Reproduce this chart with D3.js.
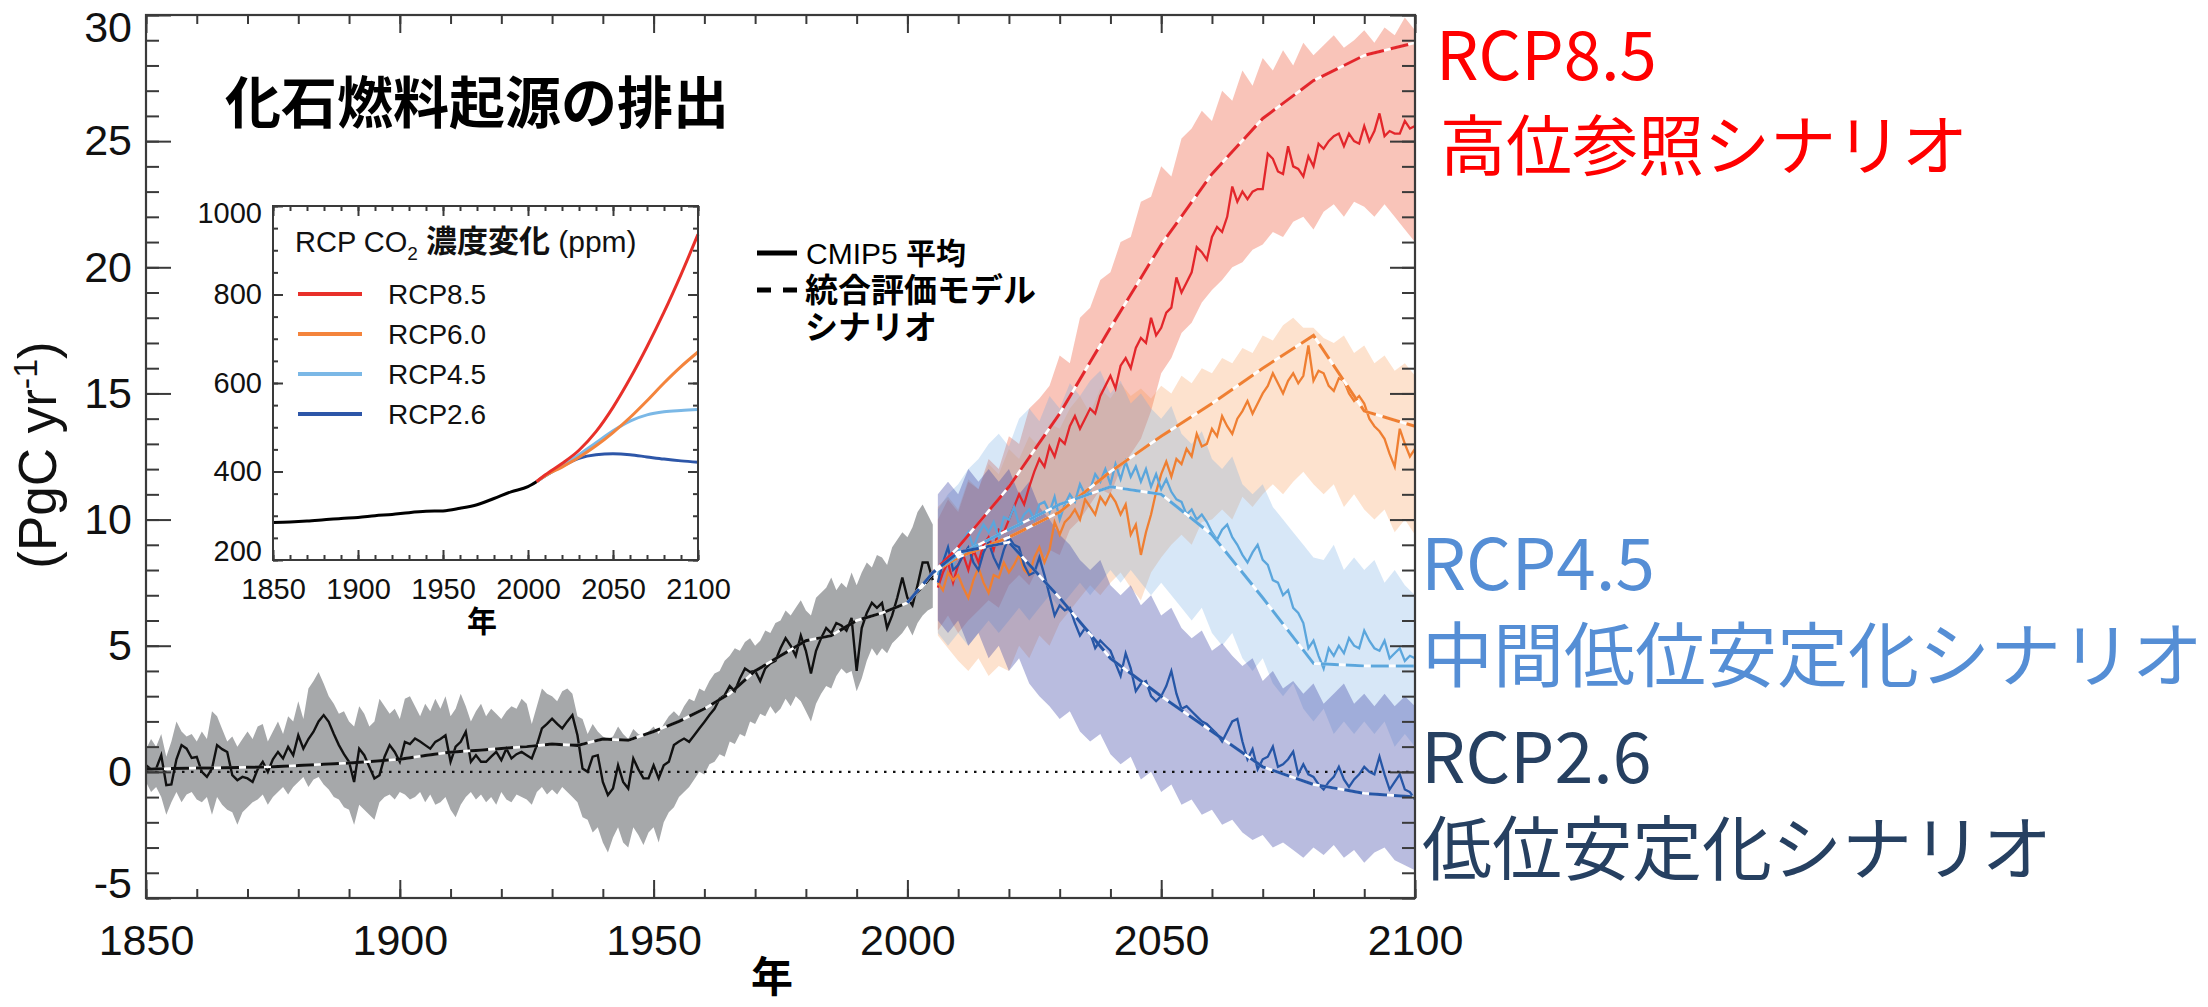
<!DOCTYPE html>
<html>
<head>
<meta charset="utf-8">
<script src="https://cdn.jsdelivr.net/npm/d3@7"></script>
<style>
  body { margin: 0; background: #fff; }
</style>
</head>
<body>
<script type="text/javascript">

  // ---------- data (PgC/yr) ----------
  var histYears = d3.range(1850, 2006);
  var histMean = [
    0.26, 0.1, 0.13, 0.66, -0.53, -0.5, 0.5, 1.06, 0.92, 0.55,
    0.59, 0.0, -0.2, 0.13, 1.06, 0.9, 0.79, -0.13, -0.33, -0.2,
    -0.26, -0.4, 0.1, 0.4, 0.0, 0.5, 0.79, 0.53, 0.99, 0.66,
    1.45, 0.92, 1.3, 1.59, 2.0, 2.25, 1.98, 1.5, 1.06, 0.7,
    0.4, -0.4, 0.92, 0.66, 0.2, -0.26, -0.13, 0.6, 1.06, 0.79,
    0.4, 1.19, 1.1, 1.32, 1.2, 1.06, 0.92, 1.19, 1.3, 1.45,
    0.4, 1.0, 1.19, 1.59, 0.4, 0.66, 0.4, 0.4, 0.6, 0.79,
    0.46, 0.92, 0.53, 0.7, 0.79, 0.66, 0.53, 1.06, 1.72, 1.9,
    2.11, 1.9, 1.72, 2.0, 2.25, 1.45, 0.13, 0.0, 0.6, 0.66,
    -0.4, -0.92, -0.66, 0.26, -0.4, -0.66, 0.53, 0.1, -0.26, -0.26,
    0.26, -0.26, 0.26, 0.4, 1.06, 1.2, 1.32, 1.19, 1.45, 1.72,
    1.98, 2.25, 2.5, 2.9, 3.04, 3.4, 3.2, 3.7, 4.1, 3.96,
    4.0, 3.6, 4.1, 4.3, 4.4, 4.9, 5.3, 5.0, 4.6, 5.4,
    4.8, 3.9, 4.8, 5.3, 5.7, 5.5, 5.9, 5.8, 5.6, 6.1,
    4.0, 5.7, 6.3, 6.7, 6.5, 6.7, 5.7, 6.2, 6.9, 7.7,
    6.9, 6.6, 7.4, 8.3, 8.3, 7.6
  ];
  var histHi = [
    0.9, 1.3, 1.0, 1.5, 0.6, 1.2, 2.0, 1.6, 1.4, 1.5,
    1.2, 1.6, 1.3, 2.4, 2.2, 1.7, 1.2, 1.4, 1.0, 1.3,
    1.6, 1.3, 1.8, 1.9, 1.2, 1.6, 2.0, 1.5, 2.2, 2.0,
    2.8, 2.1, 3.3, 3.6, 3.96, 3.5, 3.0, 2.7, 2.3, 2.4,
    2.0, 1.8, 2.6, 2.3, 1.8, 2.0, 2.9, 2.6, 2.3, 2.5,
    2.1, 2.9, 3.0, 2.6, 2.2, 2.7, 2.4, 2.9, 2.5, 3.0,
    2.2, 2.5, 3.1, 2.6, 2.0, 2.4, 2.7, 2.2, 2.5, 2.3,
    2.1, 2.4, 2.6, 2.5, 2.9, 2.7, 1.9, 2.6, 3.3, 3.1,
    3.0, 2.8, 3.2, 3.3, 3.1, 2.2, 2.1, 1.5, 1.9, 1.6,
    1.4, 1.3, 1.4, 1.8, 1.5, 1.3, 1.7, 1.5, 1.4, 1.6,
    1.8, 1.5, 1.9, 2.2, 2.4, 2.2, 2.6, 2.9, 2.8, 3.3,
    3.2, 3.6, 3.9, 4.0, 4.4, 4.6, 4.9, 4.8, 5.15, 5.3,
    5.0, 5.2, 5.6, 5.5, 5.9, 6.0, 6.4, 6.2, 6.5, 6.8,
    6.4, 6.2, 6.9, 7.1, 7.3, 7.7, 7.2, 7.5, 7.3, 7.9,
    7.4, 7.9, 8.3, 8.1, 8.6, 8.5, 8.2, 8.9, 9.2, 9.5,
    9.3, 9.7, 10.3, 10.6, 10.2, 9.8
  ];
  var histLo = [
    -0.4, -0.8, -0.6, -1.0, -1.7, -1.2, -0.8, -1.2, -0.9, -0.8,
    -1.1, -1.2, -1.0, -1.7, -1.0, -1.3, -1.5, -1.6, -2.1, -1.6,
    -1.4, -1.2, -1.1, -0.9, -1.3, -1.0, -0.8, -0.6, -0.9, -0.6,
    -0.4, -0.2, -0.6, -0.3, -0.2, -0.5, -0.7, -1.0, -1.1, -1.4,
    -1.5, -2.1, -1.3, -1.5, -1.7, -1.9, -1.2, -1.0, -0.9, -1.1,
    -0.8, -0.9, -1.1, -1.0, -0.8, -1.2, -0.9, -1.3, -1.2, -1.0,
    -1.5, -1.8, -1.3, -1.0, -0.8, -1.1, -0.9, -1.2, -1.0, -1.3,
    -0.8, -1.1, -1.2, -0.9, -1.0, -1.1, -1.3, -0.8, -0.6, -0.9,
    -0.7, -0.9, -0.6, -0.8, -1.0, -1.2, -1.8, -1.9, -2.4, -2.2,
    -2.8, -3.2, -2.6, -2.2, -2.8, -3.0, -2.2, -2.5, -2.9, -2.4,
    -2.2, -2.8, -2.0, -1.6, -1.4, -1.0, -0.8, -0.6, -0.3, 0.0,
    -0.1, 0.3, 0.4, 0.7, 0.6, 1.2, 1.1, 1.5, 1.4, 2.0,
    1.9, 2.3, 2.2, 2.6, 2.3, 2.5, 2.9, 2.6, 3.0, 2.8,
    2.4, 2.0, 2.7, 3.1, 3.4, 3.3, 3.8, 4.1, 3.9, 4.0,
    3.2, 3.7, 4.4, 4.9, 4.6, 4.9, 4.7, 5.1, 5.3, 5.5,
    5.8, 5.4, 5.9, 6.2, 6.4, 6.5
  ];
  // historical emissions (dashed), every 5 years
  var histIamYears = d3.range(1850, 2006, 5);
  var histIam = [
    0.1, 0.13, 0.15, 0.16, 0.18, 0.2, 0.25, 0.3, 0.35, 0.42,
    0.5, 0.65, 0.78, 0.85, 0.93, 1.0, 1.1, 1.05, 1.3, 1.25,
    1.6, 2.0, 2.5, 3.1, 4.0, 4.6, 5.2, 5.4, 6.0, 6.3,
    6.7, 7.8
  ];

  var rcpYears = d3.range(2006, 2101);
  var bandYears = d3.range(2006, 2101, 2);
  var iamYears = [2000, 2005, 2010, 2020, 2030, 2040, 2050, 2060, 2070, 2080, 2090, 2100];

  var rcp85Mean = [
    7.3, 7.9, 8.3, 7.5, 8.2, 8.6, 8.0, 8.8, 8.3, 9.0,
    9.3, 8.8, 9.6, 9.5, 10.0, 10.5, 11.0, 10.6, 11.3, 11.9,
    12.4, 12.1, 12.9, 12.5, 13.2, 13.0, 13.7, 14.1, 13.6, 14.0,
    14.4, 14.2, 14.9, 15.3, 15.7, 15.2, 16.1, 16.4, 16.0, 16.8,
    17.2, 17.0, 18.0, 17.3, 17.6, 18.2, 18.4, 19.6, 19.0, 19.4,
    19.8, 20.8, 20.6, 20.3, 21.2, 21.6, 21.4, 22.0, 23.2, 22.6,
    23.0, 22.7, 23.0, 23.1, 23.1, 24.5, 24.3, 23.8, 23.7, 24.8,
    24.0, 23.9, 23.6, 24.4, 24.0, 24.9, 24.7, 25.0, 25.2, 25.3,
    24.8, 25.3, 25.0, 24.9, 25.6, 25.0, 25.4, 26.1, 25.2, 25.4,
    25.3, 25.3, 25.8, 25.5, 25.6
  ];
  var rcp85Hi = [
    10.0, 10.8, 10.3, 11.5, 11.2, 12.4, 12.0, 13.3, 13.0, 14.4,
    14.8, 15.3, 16.5, 16.2, 18.0, 18.4, 19.5, 19.8, 21.0, 21.2,
    22.6, 22.8, 24.0, 23.6, 25.1, 25.5, 26.2, 25.8, 27.0, 26.6,
    27.8, 27.2, 28.3, 27.8, 28.6, 28.0, 28.9, 28.4, 28.8, 29.2,
    28.7, 29.0, 29.4, 28.9, 29.5, 29.2, 29.9, 29.4
  ];
  var rcp85Lo = [
    5.6, 6.2, 5.5, 6.0, 6.4, 6.8, 6.5, 7.4, 7.8, 7.4,
    8.2, 8.8, 8.6, 9.6, 10.0, 10.6, 11.2, 11.0, 12.0, 12.6,
    13.2, 14.3, 15.8, 16.4, 17.4, 17.8, 18.6, 19.1, 19.5, 20.0,
    20.2, 20.7, 20.9, 21.4, 21.2, 21.8, 22.0, 21.5, 22.2, 22.5,
    22.0, 22.6, 22.4, 22.0, 22.5, 22.0, 21.5, 21.0
  ];
  var rcp85Iam = [6.7, 7.9, 8.9, 11.3, 14.2, 17.6, 20.9, 23.7, 25.9, 27.4, 28.4, 28.9];

  var rcp60Mean = [
    7.5, 7.2, 7.9, 7.6, 7.8, 7.3, 6.9, 7.6, 8.1, 7.5,
    7.1, 7.8, 7.7, 8.3, 7.9, 8.2, 8.6, 8.0, 7.8, 8.5,
    8.9, 8.3, 8.8, 9.9, 9.4, 9.9, 10.1, 10.4, 10.0, 10.8,
    10.5, 10.2, 10.9, 10.6, 11.0, 10.7, 10.2, 10.6, 9.4, 9.8,
    8.6, 9.5, 10.2, 11.1, 11.8, 12.3, 11.7, 12.4, 12.2, 12.8,
    12.5, 13.4, 12.9, 13.0, 13.6, 13.3, 14.1, 13.7, 13.4, 14.0,
    14.3, 14.7, 14.2, 14.6, 15.0, 15.3, 15.8, 15.4, 15.0, 15.5,
    15.8, 15.4, 15.7, 16.9, 15.5, 15.9, 15.8, 15.3, 15.1, 15.6,
    15.5, 15.0, 14.7, 14.9, 14.6, 14.0, 13.7, 13.5, 13.2, 12.6,
    12.1, 13.6, 13.0, 12.5, 12.8
  ];
  var rcp60Hi = [
    10.5, 10.9, 10.4, 11.6, 11.2, 12.2, 11.8, 12.8, 12.4, 13.3,
    12.9, 13.8, 13.6, 14.4, 14.9, 14.2, 15.2, 14.8, 15.4, 14.9,
    15.2, 14.8, 15.3, 15.0, 15.7, 15.4, 16.0, 15.8, 16.4, 16.2,
    16.8, 16.6, 17.3, 17.1, 17.7, 18.0, 17.6, 17.6, 17.2, 17.0,
    17.3, 16.6, 16.9, 16.2, 16.5, 15.9, 16.2, 15.7
  ];
  var rcp60Lo = [
    5.4, 4.9, 4.4, 4.0, 4.5, 3.8, 4.2, 4.0, 5.0, 4.5,
    5.4, 5.0, 5.9, 6.4, 6.9, 7.4, 7.0, 7.5, 7.9, 7.3,
    6.8, 7.9, 8.5, 9.0, 9.4, 9.0, 9.9, 10.0, 10.4, 10.0,
    10.9, 10.5, 11.0, 11.4, 11.0, 11.5, 11.9, 11.4, 11.0, 11.4,
    10.5, 11.0, 10.4, 10.0, 10.4, 9.5, 10.0, 9.4
  ];
  var rcp60Iam = [6.7, 7.9, 8.5, 9.3, 10.3, 11.9, 13.3, 14.6, 16.0, 17.3, 14.3, 13.7];

  var rcp45Mean = [
    7.8, 8.4, 8.9, 8.2, 8.7, 9.2, 9.5, 8.9, 9.4, 9.8,
    9.5, 9.9, 9.3, 10.1, 10.0, 10.5, 9.8, 10.2, 10.4, 10.0,
    10.6, 10.7, 10.3, 10.9, 10.0, 10.6, 11.0, 10.7, 11.4, 11.0,
    11.2, 11.8, 11.5, 12.0, 11.4, 12.2, 11.6, 12.3, 11.7, 12.1,
    11.5, 12.0, 11.3, 11.8, 11.2, 11.6, 11.1, 10.8, 10.7, 10.2,
    10.4, 10.0, 10.2, 9.9, 9.5, 9.2, 9.6, 9.8, 9.3, 9.0,
    8.6, 8.3, 8.7, 9.0, 8.4, 8.2, 7.6, 7.5, 7.0, 7.2,
    6.5, 6.3, 5.9, 4.9, 5.2, 4.6, 4.1, 4.9, 4.6, 5.0,
    4.7, 5.3, 5.0, 4.9, 5.6, 5.2, 4.9, 4.8, 5.2, 4.5,
    4.7, 4.9, 4.4, 4.6, 4.5
  ];
  var rcp45Hi = [
    10.4, 11.0, 11.4, 12.0, 12.4, 13.0, 13.4, 12.9, 14.0, 14.4,
    13.9, 14.9, 14.4, 15.4, 14.9, 15.5, 15.9, 15.0, 15.5, 14.6,
    15.0, 14.4, 14.0, 14.5, 13.4, 13.0, 13.5, 12.4, 12.0, 12.5,
    11.4, 11.0, 11.4, 10.5, 10.0, 9.5, 9.0, 8.5, 8.4, 9.0,
    8.0, 8.5, 8.0, 8.4, 7.5, 8.0, 7.4, 7.0
  ];
  var rcp45Lo = [
    5.5, 5.0, 5.5, 5.0, 5.5, 6.0, 5.5, 6.0, 6.5, 6.0,
    6.5, 7.0, 6.5, 7.0, 7.5, 7.0, 7.5, 8.0, 7.5, 8.0,
    7.5, 7.0, 7.5, 7.0, 6.5, 6.0, 6.5, 5.5, 5.0, 5.5,
    4.5, 4.0, 4.5, 3.5, 3.0, 3.5, 2.5, 2.0, 2.5, 1.5,
    2.0, 1.5, 2.0, 1.5, 2.0, 1.0, 1.5, 1.0
  ];
  var rcp45Iam = [6.7, 7.9, 8.6, 9.6, 10.6, 11.3, 11.0, 9.4, 6.9, 4.3, 4.2, 4.2];

  var rcp26Mean = [
    7.5, 8.3, 8.9, 8.0, 8.2, 8.6, 8.9, 8.3, 8.0, 8.7,
    9.1, 8.5, 8.1, 8.8, 9.3, 9.0, 8.9, 8.2, 7.8, 7.9,
    8.5, 7.8, 7.0, 6.2, 6.6, 6.4, 6.5, 5.9, 5.4, 5.7,
    5.5, 4.9, 5.2, 5.0, 4.8, 4.3, 3.8, 4.7, 4.1, 3.2,
    3.5, 3.6, 3.0, 2.8, 3.0, 3.4, 4.0, 3.1, 2.5, 2.6,
    2.4, 2.2, 2.0, 1.9, 1.7, 1.5, 1.2, 1.6, 2.0, 2.1,
    1.2, 0.5, 0.9, 0.1, 0.5, 0.6, 1.0, 0.2, 0.3, 0.5,
    0.8, -0.1, 0.3, -0.1, -0.2, -0.5, -0.7, -0.4, -0.2, 0.2,
    -0.3, -0.6, -0.3, -0.1, 0.2, 0.0, -0.1, 0.6, -0.1, -0.7,
    -0.4, -0.1, -0.7, -0.8, -1.1
  ];
  var rcp26Hi = [
    11.0, 11.5, 11.0, 12.0, 11.5, 12.0, 11.5, 12.0, 11.0, 11.5,
    10.5, 10.0, 9.4, 9.0, 8.4, 8.0, 8.4, 7.4, 7.0, 7.4,
    6.6, 7.0, 6.2, 6.5, 5.7, 5.3, 5.6, 4.8, 5.1, 4.6,
    4.2, 4.5, 3.6, 4.0, 3.3, 3.6, 3.1, 3.5, 2.7, 3.1,
    3.5, 2.7, 3.1, 2.6, 3.1, 2.6, 3.0, 2.6
  ];
  var rcp26Lo = [
    6.0, 5.5, 6.0, 5.0, 5.5, 4.5, 5.0, 4.0, 4.5, 3.5,
    3.0, 2.6, 2.1, 2.4, 1.6, 1.2, 1.5, 0.7, 0.3, 0.6,
    -0.3, 0.0, -0.8, -0.5, -1.3, -1.1, -1.7, -1.5, -2.1, -1.9,
    -2.4, -2.7, -2.5, -3.0, -2.8, -3.1, -3.4, -3.0, -3.3, -2.9,
    -3.4, -3.1, -3.6, -3.2, -3.0, -3.5, -3.7, -3.9
  ];
  var rcp26Iam = [6.7, 7.9, 8.7, 9.1, 6.9, 4.5, 3.0, 1.6, 0.2, -0.5, -0.85, -1.0];

  var yTicks = [-5, 0, 5, 10, 15, 20, 25, 30];
  var xTicks = [1850, 1900, 1950, 2000, 2050, 2100];

  // inset: CO2 concentration (ppm)
  var co2HistYears = [1850, 1860, 1870, 1880, 1890, 1900, 1910, 1920, 1930, 1940, 1950, 1960, 1970, 1980, 1990, 2000, 2005];
  var co2Hist = [285, 286, 288, 291, 294, 296, 300, 303, 307, 310, 311, 317, 325, 339, 354, 366, 377];
  var co2RcpYears = [2005, 2010, 2020, 2030, 2040, 2050, 2060, 2070, 2080, 2090, 2100];
  var co2Rcp85 = [377, 392, 418, 448, 490, 545, 610, 682, 760, 845, 936];
  var co2Rcp60 = [377, 390, 410, 432, 458, 488, 522, 560, 600, 637, 670];
  var co2Rcp45 = [377, 390, 412, 438, 465, 492, 514, 528, 535, 538, 540];
  var co2Rcp26 = [377, 390, 412, 430, 438, 440, 438, 433, 428, 424, 421];
  var insetYTicks = [200, 400, 600, 800, 1000];
  var insetXTicks = [1850, 1900, 1950, 2000, 2050, 2100];

  // ---------- drawing ----------
  var w = 2208;
  var h = 1007;
  var latin = "'Liberation Sans', Arial, sans-serif";
  var cjk = "'Noto Sans CJK JP', sans-serif";
  var axisCol = "#3a3a3a";

  var svg = d3.select("body")
              .append("svg")
              .attr("width", w)
              .attr("height", h)
              .style("background", "#fff");

  var x = d3.scaleLinear().domain([1850, 2100]).range([146, 1415]),
      y = d3.scaleLinear().domain([-5, 30]).range([898, 15]);

  function zip(years, vals) {
    return years.map(function(yr, i) { return {yr: yr, v: vals[i]}; });
  }
  function zipBand(years, lo, hi) {
    return years.map(function(yr, i) { return {yr: yr, lo: lo[i], hi: hi[i]}; });
  }

  var area = d3.area()
      .x(function(d) { return x(d.yr); })
      .y0(function(d) { return y(d.lo); })
      .y1(function(d) { return y(d.hi); });
  var line = d3.line()
      .x(function(d) { return x(d.yr); })
      .y(function(d) { return y(d.v); });

  var scenarios = [
    {mean: rcp85Mean, lo: rcp85Lo, hi: rcp85Hi, iam: rcp85Iam, col: "#e3262b", band: "rgba(238,100,70,0.38)"},
    {mean: rcp60Mean, lo: rcp60Lo, hi: rcp60Hi, iam: rcp60Iam, col: "#ef7f32", band: "rgba(248,150,80,0.28)"},
    {mean: rcp45Mean, lo: rcp45Lo, hi: rcp45Hi, iam: rcp45Iam, col: "#5ba6dc", band: "rgba(110,170,225,0.28)"},
    {mean: rcp26Mean, lo: rcp26Lo, hi: rcp26Hi, iam: rcp26Iam, col: "#2656a6", band: "rgba(70,80,170,0.38)"}
  ];

  // bands
  svg.append("path")
      .datum(zipBand(histYears, histLo, histHi))
      .attr("d", area)
      .attr("fill", "#a6a8aa");

  scenarios.forEach(function(s) {
    svg.append("path")
        .datum(zipBand(bandYears, s.lo, s.hi))
        .attr("d", area)
        .attr("fill", s.band);
  });

  // zero line
  svg.append("line")
      .attr("x1", x(1850)).attr("x2", x(2100))
      .attr("y1", y(0)).attr("y2", y(0))
      .attr("stroke", "#111")
      .attr("stroke-width", 2.2)
      .attr("stroke-dasharray", "2.5,6.5");

  // model means
  svg.append("path")
      .datum(zip(histYears, histMean))
      .attr("d", line)
      .attr("fill", "none")
      .attr("stroke", "#111")
      .attr("stroke-width", 2.4);

  scenarios.forEach(function(s) {
    svg.append("path")
        .datum(zip(rcpYears, s.mean))
        .attr("d", line)
        .attr("fill", "none")
        .attr("stroke", s.col)
        .attr("stroke-width", 2.3);
  });

  // dashed scenario lines: white underneath, coloured dashes on top
  function dashed(data, col) {
    svg.append("path").datum(data).attr("d", line)
        .attr("fill", "none").attr("stroke", "#fff").attr("stroke-width", 2.6);
    svg.append("path").datum(data).attr("d", line)
        .attr("fill", "none").attr("stroke", col).attr("stroke-width", 3)
        .attr("stroke-dasharray", "18,7");
  }
  dashed(zip(histIamYears, histIam), "#111");
  scenarios.forEach(function(s) { dashed(zip(iamYears, s.iam), s.col); });

  // axes: inward ticks on all four sides
  function ticks(axis, tr) {
    var g = svg.append("g").attr("transform", tr).call(axis);
    g.select(".domain").remove();
    g.selectAll("line").attr("stroke", axisCol).attr("stroke-width", 2);
    return g;
  }
  ticks(d3.axisLeft(y).tickValues(d3.range(-5, 31)).tickSize(-13).tickFormat(""), "translate(146,0)");
  ticks(d3.axisRight(y).tickValues(d3.range(-5, 31)).tickSize(-13).tickFormat(""), "translate(1415,0)");
  ticks(d3.axisRight(y).tickValues(yTicks).tickSize(-25).tickFormat(""), "translate(1415,0)");
  ticks(d3.axisTop(x).tickValues(d3.range(1850, 2101, 10)).tickSize(-9).tickFormat(""), "translate(0,15)");
  ticks(d3.axisTop(x).tickValues(xTicks).tickSize(-18).tickFormat(""), "translate(0,15)");
  ticks(d3.axisBottom(x).tickValues(d3.range(1850, 2101, 10)).tickSize(-9).tickFormat(""), "translate(0,898)");

  var yAxis = ticks(d3.axisLeft(y).tickValues(yTicks).tickSize(-25).tickPadding(14)
      .tickFormat(function(d) { return String(d); }), "translate(146,0)");
  yAxis.selectAll("text")
      .style("font-family", latin).style("font-size", "43px").attr("fill", "#111")
      .attr("transform", function(d) { return d === 30 ? "translate(0,13)" : d === -5 ? "translate(0,-14)" : null; });

  var xAxis = ticks(d3.axisBottom(x).tickValues(xTicks).tickSize(-18).tickPadding(26)
      .tickFormat(function(d) { return String(d); }), "translate(0,898)");
  xAxis.selectAll("text")
      .style("font-family", latin).style("font-size", "43px").attr("fill", "#111");

  svg.append("rect")
      .attr("x", 146).attr("y", 15)
      .attr("width", 1415 - 146).attr("height", 898 - 15)
      .attr("fill", "none").attr("stroke", axisCol).attr("stroke-width", 2.2);

  // axis titles
  var yt = svg.append("text")
      .attr("transform", "translate(56,455) rotate(-90)")
      .attr("text-anchor", "middle")
      .style("font-family", latin).style("font-size", "53px").attr("fill", "#111");
  yt.append("tspan").text("(PgC yr");
  yt.append("tspan").attr("dy", -19).style("font-size", "34px").text("-1");
  yt.append("tspan").attr("dy", 19).text(")");

  svg.append("text")
      .attr("x", 772).attr("y", 992)
      .attr("text-anchor", "middle")
      .style("font-family", cjk).style("font-weight", 700).style("font-size", "42px")
      .text("年");

  // title
  svg.append("text")
      .attr("x", 225).attr("y", 123)
      .style("font-family", cjk).style("font-weight", 700).style("font-size", "56px")
      .text("化石燃料起源の排出");

  // legend
  svg.append("line").attr("x1", 757).attr("x2", 797).attr("y1", 253).attr("y2", 253)
      .attr("stroke", "#000").attr("stroke-width", 5);
  svg.append("line").attr("x1", 757).attr("x2", 797).attr("y1", 290).attr("y2", 290)
      .attr("stroke", "#000").attr("stroke-width", 5).attr("stroke-dasharray", "14,12");
  var lg = svg.append("text").attr("fill", "#000");
  var l1 = lg.append("tspan").attr("x", 806).attr("y", 264);
  l1.append("tspan").style("font-family", latin).style("font-size", "30px").text("CMIP5 ");
  l1.append("tspan").style("font-family", cjk).style("font-weight", 700).style("font-size", "30px").text("平均");
  lg.append("tspan").attr("x", 805).attr("y", 302)
      .style("font-family", cjk).style("font-weight", 700).style("font-size", "33px")
      .text("統合評価モデル");
  lg.append("tspan").attr("x", 805).attr("y", 339)
      .style("font-family", cjk).style("font-weight", 700).style("font-size", "33px")
      .text("シナリオ");

  // right-hand scenario labels
  var labels = [
    {t: "RCP8.5", x: 1436, y: 80, c: "#ff0000", s: 67},
    {t: "高位参照シナリオ", x: 1440, y: 170, c: "#ff0000", s: 66},
    {t: "RCP4.5", x: 1421, y: 590, c: "#558ed5", s: 71},
    {t: "中間低位安定化シナリオ", x: 1422, y: 681, c: "#558ed5", s: 71},
    {t: "RCP2.6", x: 1421, y: 783, c: "#264061", s: 70},
    {t: "低位安定化シナリオ", x: 1422, y: 875, c: "#264061", s: 70}
  ];
  svg.selectAll(".rlab")
      .data(labels)
      .enter().append("text")
      .attr("class", "rlab")
      .attr("x", function(d) { return d.x; })
      .attr("y", function(d) { return d.y; })
      .attr("fill", function(d) { return d.c; })
      .style("font-family", cjk)
      .style("font-size", function(d) { return d.s + "px"; })
      .text(function(d) { return d.t; });

  // ---------- inset ----------
  var xi = d3.scaleLinear().domain([1850, 2100]).range([273, 698]),
      yi = d3.scaleLinear().domain([200, 1000]).range([560, 206]);

  svg.append("rect").attr("x", 273).attr("y", 206).attr("width", 698 - 273).attr("height", 560 - 206)
      .attr("fill", "#fff");

  var lineI = d3.line()
      .curve(d3.curveMonotoneX)
      .x(function(d) { return xi(d.yr); })
      .y(function(d) { return yi(d.v); });

  var insetSeries = [
    {v: co2Rcp26, col: "#2d56a8"},
    {v: co2Rcp45, col: "#7bb8e6"},
    {v: co2Rcp60, col: "#f4843c"},
    {v: co2Rcp85, col: "#e8302a"}
  ];
  insetSeries.forEach(function(s) {
    svg.append("path").datum(zip(co2RcpYears, s.v)).attr("d", lineI)
        .attr("fill", "none").attr("stroke", s.col).attr("stroke-width", 3);
  });
  svg.append("path").datum(zip(co2HistYears, co2Hist)).attr("d", lineI)
      .attr("fill", "none").attr("stroke", "#000").attr("stroke-width", 3);

  ticks(d3.axisLeft(yi).tickValues(d3.range(200, 1001, 50)).tickSize(-5).tickFormat(""), "translate(273,0)");
  ticks(d3.axisRight(yi).tickValues(d3.range(200, 1001, 50)).tickSize(-5).tickFormat(""), "translate(698,0)");
  ticks(d3.axisRight(yi).tickValues(insetYTicks).tickSize(-10).tickFormat(""), "translate(698,0)");
  ticks(d3.axisTop(xi).tickValues(d3.range(1850, 2101, 10)).tickSize(-5).tickFormat(""), "translate(0,206)");
  ticks(d3.axisTop(xi).tickValues(insetXTicks).tickSize(-10).tickFormat(""), "translate(0,206)");
  ticks(d3.axisBottom(xi).tickValues(d3.range(1850, 2101, 10)).tickSize(-5).tickFormat(""), "translate(0,560)");

  var yAxisI = ticks(d3.axisLeft(yi).tickValues(insetYTicks).tickSize(-10).tickPadding(11)
      .tickFormat(function(d) { return String(d); }), "translate(273,0)");
  yAxisI.selectAll("text")
      .style("font-family", latin).style("font-size", "29px").attr("fill", "#111")
      .attr("transform", function(d) { return d === 1000 ? "translate(0,7)" : d === 200 ? "translate(0,-9)" : null; });
  var xAxisI = ticks(d3.axisBottom(xi).tickValues(insetXTicks).tickSize(-10).tickPadding(18)
      .tickFormat(function(d) { return String(d); }), "translate(0,560)");
  xAxisI.selectAll("text")
      .style("font-family", latin).style("font-size", "29px").attr("fill", "#111");

  svg.append("rect").attr("x", 273).attr("y", 206).attr("width", 698 - 273).attr("height", 560 - 206)
      .attr("fill", "none").attr("stroke", axisCol).attr("stroke-width", 2);

  svg.append("text").attr("x", 482).attr("y", 632).attr("text-anchor", "middle")
      .style("font-family", cjk).style("font-weight", 700).style("font-size", "30px")
      .text("年");

  // inset legend
  var it = svg.append("text").attr("x", 295).attr("y", 252).attr("fill", "#111")
      .style("font-family", latin).style("font-size", "29px");
  it.append("tspan").text("RCP CO");
  it.append("tspan").attr("dy", 8).style("font-size", "19px").text("2");
  it.append("tspan").attr("dy", -8).text(" ");
  it.append("tspan").style("font-family", cjk).style("font-weight", 700).style("font-size", "31px").text("濃度変化");
  it.append("tspan").style("font-size", "30px").text(" (ppm)");

  var insetNames = ["RCP8.5", "RCP6.0", "RCP4.5", "RCP2.6"];
  var insetCols = ["#e8302a", "#f4843c", "#7bb8e6", "#2d56a8"];
  insetNames.forEach(function(n, i) {
    var ly = 294 + i * 40;
    svg.append("line").attr("x1", 298).attr("x2", 362).attr("y1", ly).attr("y2", ly)
        .attr("stroke", insetCols[i]).attr("stroke-width", 4);
    svg.append("text").attr("x", 388).attr("y", ly + 10)
        .style("font-family", latin).style("font-size", "28px").attr("fill", "#111")
        .text(n);
  });

</script>
</body>
</html>
